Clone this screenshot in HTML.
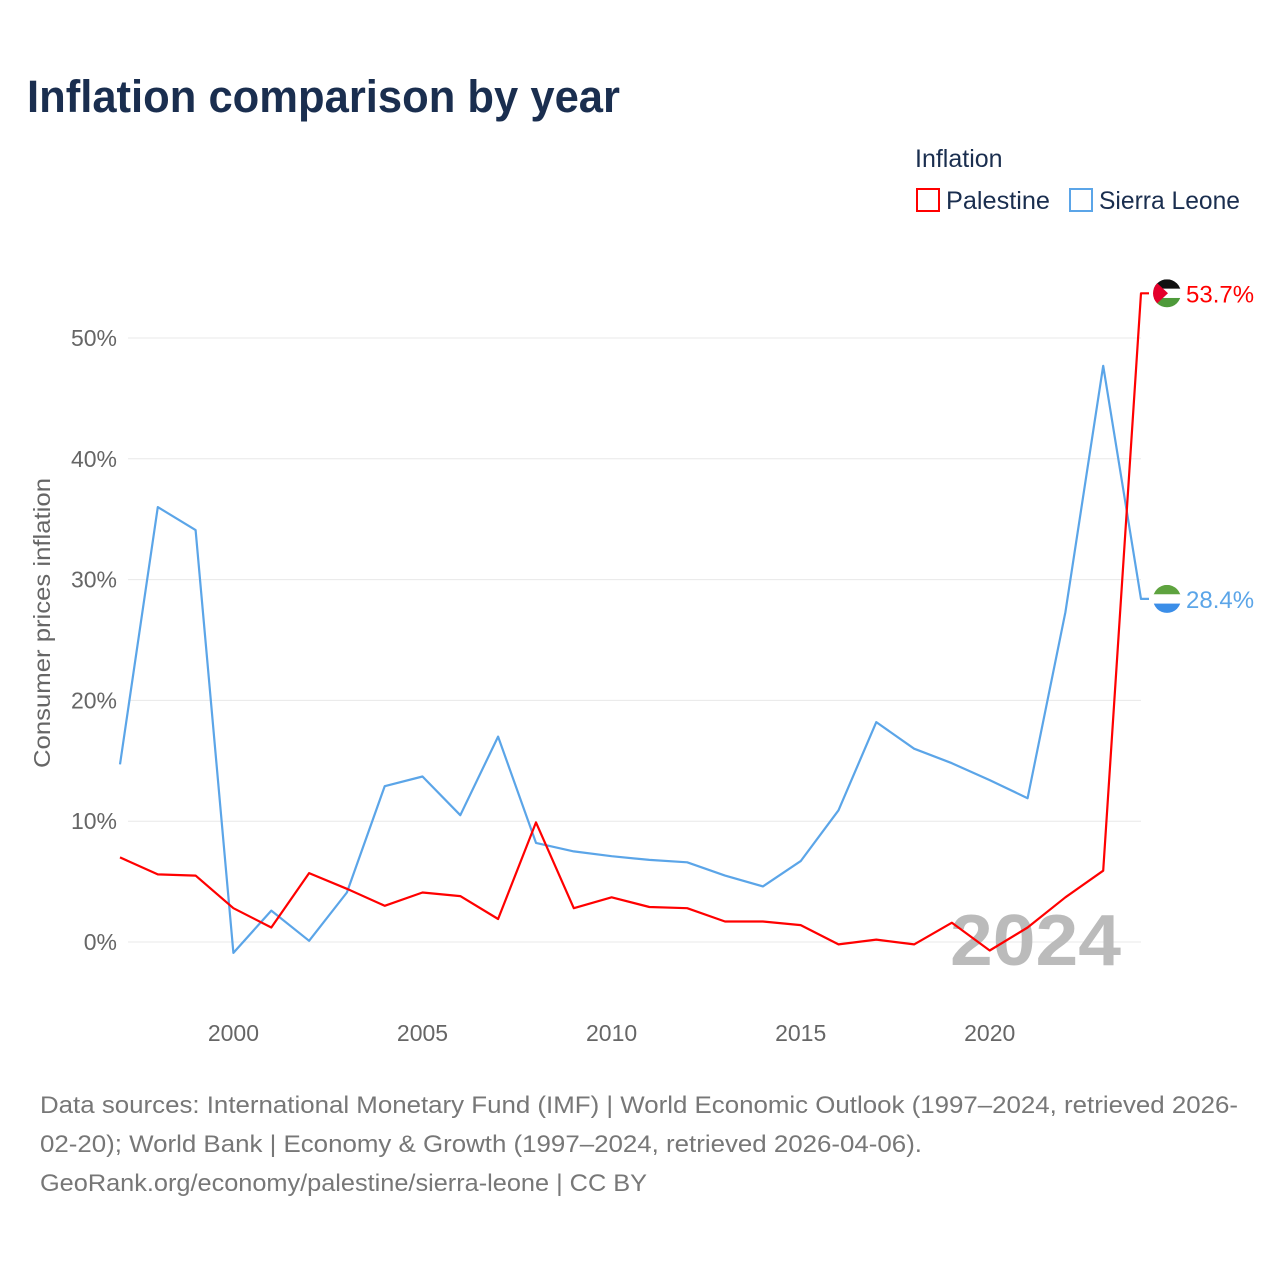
<!DOCTYPE html>
<html><head><meta charset="utf-8"><style>
body{margin:0;background:#fff;font-family:"Liberation Sans",sans-serif}
</style></head><body>
<svg id="chart" width="1280" height="1280" xmlns="http://www.w3.org/2000/svg" font-family="Liberation Sans, sans-serif">
<rect width="1280" height="1280" fill="#fff"/>
<text x="27" y="112" font-size="45" font-weight="bold" fill="#1a2e4f" textLength="593" lengthAdjust="spacingAndGlyphs">Inflation comparison by year</text>
<text x="915" y="167" font-size="25" fill="#1a2e4f">Inflation</text>
<g><rect x="917" y="189" width="22" height="22" fill="none" stroke="#ff0000" stroke-width="2"/><text x="946" y="209" font-size="25" fill="#1a2e4f" textLength="104" lengthAdjust="spacingAndGlyphs">Palestine</text></g>
<g><rect x="1070" y="189" width="22" height="22" fill="none" stroke="#5ba5e8" stroke-width="2"/><text x="1099" y="209" font-size="25" fill="#1a2e4f" textLength="141" lengthAdjust="spacingAndGlyphs">Sierra Leone</text></g>
<text transform="translate(50,623) rotate(-90)" text-anchor="middle" font-size="23" fill="#666" textLength="290" lengthAdjust="spacingAndGlyphs">Consumer prices inflation</text>
<g id="grid"></g><g id="xt"></g>
<text x="950" y="965" font-size="72" font-weight="bold" fill="#bbb" textLength="171" lengthAdjust="spacingAndGlyphs">2024</text>
<g id="series"></g>
<text font-size="24" fill="#777"><tspan x="40" y="1113" textLength="1198" lengthAdjust="spacingAndGlyphs">Data sources: International Monetary Fund (IMF) | World Economic Outlook (1997–2024, retrieved 2026-</tspan><tspan x="40" y="1152" textLength="882" lengthAdjust="spacingAndGlyphs">02-20); World Bank | Economy &amp; Growth (1997–2024, retrieved 2026-04-06).</tspan><tspan x="40" y="1191" textLength="607" lengthAdjust="spacingAndGlyphs">GeoRank.org/economy/palestine/sierra-leone | CC BY</tspan></text>
</svg>
<script>
const years=[1997,1998,1999,2000,2001,2002,2003,2004,2005,2006,2007,2008,2009,2010,2011,2012,2013,2014,2015,2016,2017,2018,2019,2020,2021,2022,2023,2024];
const palestine=[7.0,5.6,5.5,2.8,1.2,5.7,4.4,3.0,4.1,3.8,1.9,9.9,2.8,3.7,2.9,2.8,1.7,1.7,1.4,-0.2,0.2,-0.2,1.6,-0.7,1.2,3.7,5.9,53.7];
const sierraLeone=[14.7,36.0,34.1,-0.9,2.6,0.1,4.1,12.9,13.7,10.5,17.0,8.2,7.5,7.1,6.8,6.6,5.5,4.6,6.7,10.9,18.2,16.0,14.8,13.4,11.9,27.3,47.7,28.4];
const yTicks=[0,10,20,30,40,50];
const xTicks=[2000,2005,2010,2015,2020];
const NS="http://www.w3.org/2000/svg";
const X=y=>120+(y-1997)*(1141-120)/27;
const Y=v=>942-v*(942-338)/50;
function mk(t,a,p){const e=document.createElementNS(NS,t);for(const k in a)e.setAttribute(k,a[k]);p.appendChild(e);return e;}
const grid=document.getElementById('grid'),xt=document.getElementById('xt'),ser=document.getElementById('series');
yTicks.forEach(v=>{
 const l=mk('line',{x1:128,x2:1141,y1:Y(v),y2:Y(v),stroke:'#e8e8e8','stroke-width':1},grid);
 
 
 const t=mk('text',{x:117,y:Y(v)+8,'text-anchor':'end','font-size':23,fill:'#666'},grid);t.textContent=v+'%';
 
 
});
xTicks.forEach(v=>{
 const t=mk('text',{x:X(v),y:1041,'text-anchor':'middle','font-size':23,fill:'#666'},xt);t.textContent=v;
 
 
});
function draw(vals,color,name,flag){
 const last=vals[vals.length-1];
 let d=vals.map((v,i)=>(i?'L':'M')+X(years[i]).toFixed(1)+' '+Y(v).toFixed(1)).join(' ');
 d+=' L'+(X(2024)+8)+' '+Y(last).toFixed(1);
 const p=mk('path',{d:d,fill:'none',stroke:color,'stroke-width':2.2,'stroke-linejoin':'round'},ser);
 
 
 const cx=1167,cy=Y(last);
 const g=mk('g',{},ser);
 
 
 const cp=mk('circle',{cx:cx,cy:cy,r:14},mk('clipPath',{id:'c'+name},g));
 flag.forEach((c,i)=>mk('rect',{x:cx-14,y:cy-14+i*28/3,width:28,height:28/3+0.5,fill:c,'clip-path':'url(#c'+name+')'},g));
 if(name==='palestine')mk('polygon',{points:`${cx-14},${cy-14} ${cx+1},${cy} ${cx-14},${cy+14}`,fill:'#e4002b','clip-path':'url(#c'+name+')'},g);
 const t=mk('text',{x:1186,y:cy+9,'font-size':24,fill:color},ser);t.textContent=last.toFixed(1)+'%';
 
 
}
draw(sierraLeone,'#5ba5e8','sierra-leone',['#5ea33f','#ffffff','#3b8ee8']);
draw(palestine,'#ff0000','palestine',['#111','#ffffff','#4e9a3a']);
</script>
</body></html>
